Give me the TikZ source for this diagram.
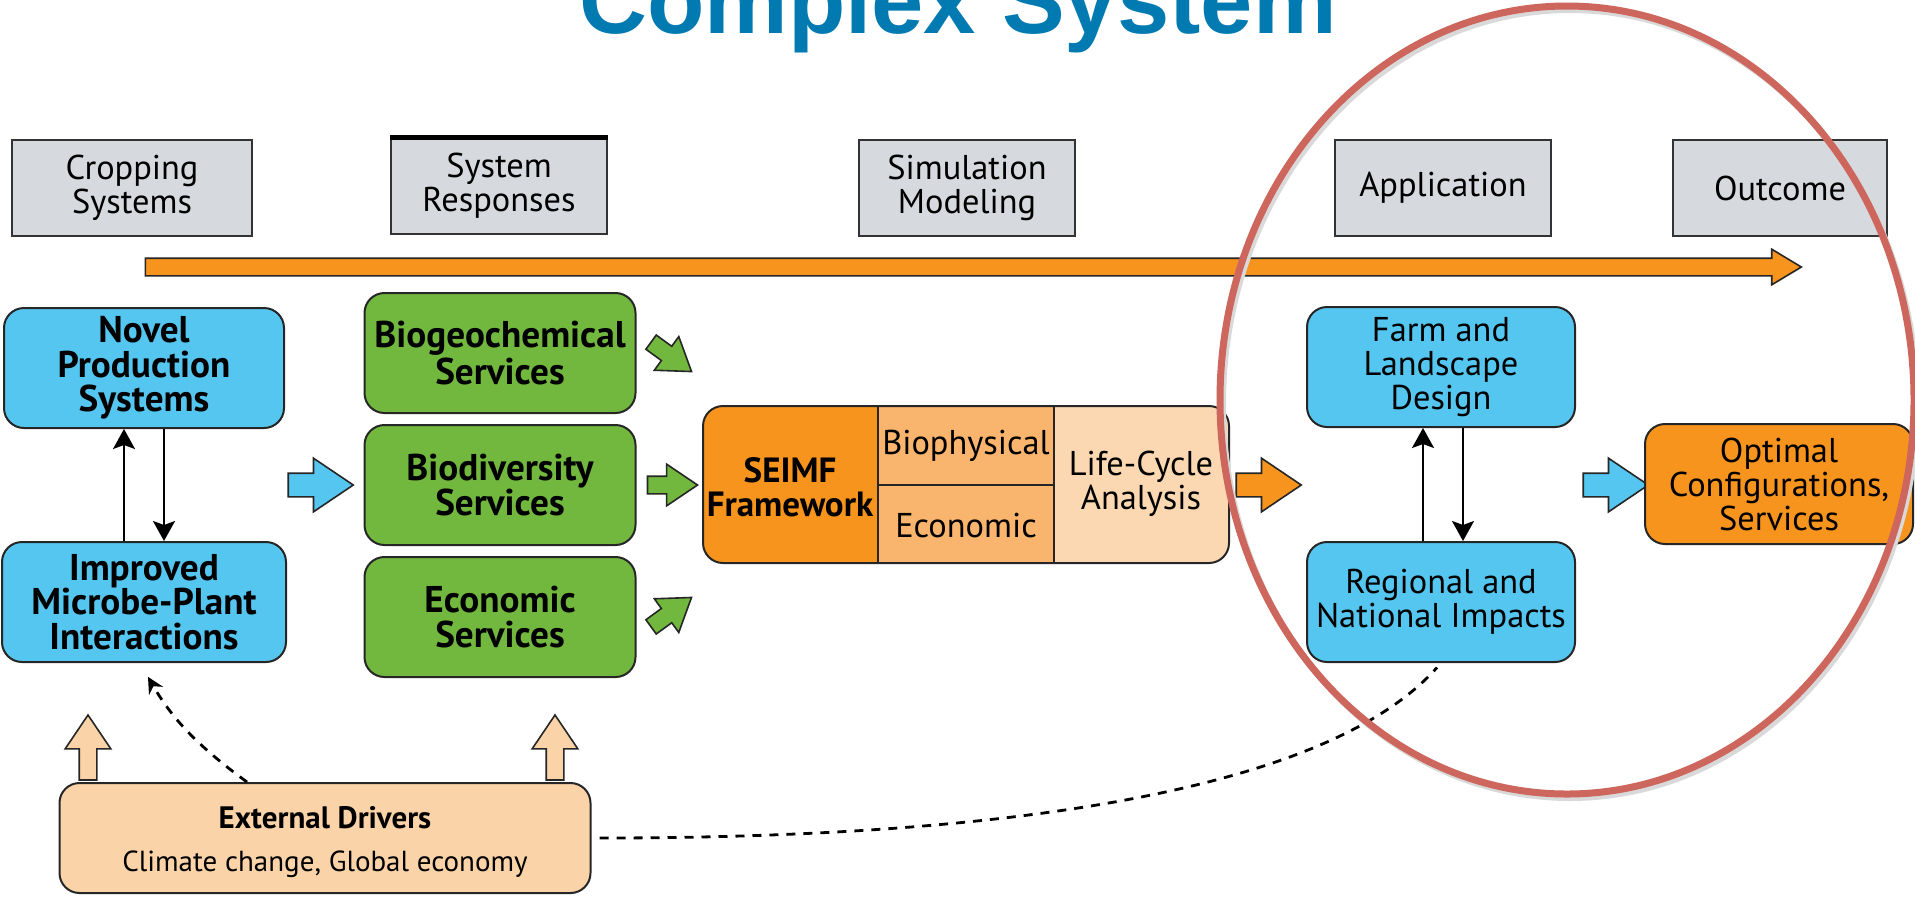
\documentclass[tikz,border=0pt]{standalone}
\usepackage{fontspec}
\setmainfont{PT Sans}
\newfontfamily\titlefont{Liberation Sans}
\usetikzlibrary{shapes.arrows,arrows.meta,calc}
\definecolor{hdrgray}{RGB}{214,218,223}
\definecolor{skyblue}{RGB}{84,198,240}
\definecolor{leafgreen}{RGB}{114,184,62}
\definecolor{darkorange}{RGB}{247,148,30}
\definecolor{midorange}{RGB}{249,180,110}
\definecolor{paleorange}{RGB}{252,216,178}
\definecolor{tan}{RGB}{250,212,168}
\definecolor{titleblue}{RGB}{0,122,176}
\definecolor{ringred}{RGB}{205,102,92}

\begin{document}
\begin{tikzpicture}[x=0.5pt,y=-0.5pt,
    every node/.style={font=\fontsize{17.2}{17}\selectfont, inner sep=0pt, align=center},
    hdr/.style={draw=black!80, line width=1pt, fill=hdrgray, minimum width=108pt, minimum height=48pt},
    box/.style={draw=black!85, line width=1pt, rounded corners=10pt, minimum width=134pt, minimum height=60pt},
    bold/.style={font=\fontsize{18.6}{17.2}\selectfont\bfseries},
    blk/.style={single arrow, draw=black!85, line width=0.8pt, single arrow head indent=0pt,
      single arrow tip angle=68, minimum height=32.5pt, inner ysep=5.5pt, single arrow head extend=7.5pt},
    link/.style={line width=1pt, -{Stealth[length=10pt,width=11pt,inset=2pt]}},
    feedback/.style={line width=1.4pt, dash pattern=on 4.5pt off 4pt}
  ]
  \def\sx{703} \def\sa{878} \def\sb{1054} \def\se{1229}
  \def\st{406} \def\sm{485} \def\sbot{563}
  \useasboundingbox (0,0) rectangle (1915,896);
  \fill[white] (0,0) rectangle (1915,896);

  %title, cut at the top
  \node[font=\titlefont\bfseries\fontsize{47}{47}\selectfont, text=titleblue, anchor=base] (title) at (958,33) {Complex System};

  %headers
  \node[hdr, minimum width=120pt] (crop) at (132,188) {Cropping\\Systems};
  \node[hdr] (resp) at (499,186) {System\\Responses};
  \node[hdr] (simu) at (967,188) {Simulation\\Modeling};
  \node[hdr] (appl) at (1443,188) {Application};
  \node[hdr, minimum width=107pt] (outc) at (1780,188) {Outcome};
  \draw[line width=2.5pt] (resp.north west) -- (resp.north east);
  \node[blk, fill=darkorange, minimum height=828pt, inner ysep=4pt, single arrow head extend=4.5pt, single arrow tip angle=62] (flow) at (966,267) {};

  %cropping systems
  \node[box, bold, fill=skyblue, minimum width=140pt] (novel) at (144,368) {Novel\\Production\\Systems};
  \node[box, bold, fill=skyblue, minimum width=142pt] (micro) at (144,602) {Improved\\Microbe-Plant\\Interactions};
  \draw[link] ($(micro.north)+(-20,0)$) -- ($(novel.south)+(-20,0)$);
  \draw[link] ($(novel.south)+(20,0)$) -- ($(micro.north)+(20,0)$);
  \node[blk, fill=skyblue] (toserv) at (312,485) {};

  %system responses
  \node[box, bold, fill=leafgreen, minimum width=135.5pt] (bgc) at (500,353) {Biogeochemical\\Services};
  \node[box, bold, fill=leafgreen, minimum width=135.5pt] (bdv) at (500,485) {Biodiversity\\Services};
  \node[box, bold, fill=leafgreen, minimum width=135.5pt] (ecs) at (500,617) {Economic\\Services};
  \node[blk, fill=leafgreen, minimum height=25pt, inner ysep=4pt, single arrow head extend=6pt, rotate=-36] (gup) at (666,353) {};
  \node[blk, fill=leafgreen, minimum height=25pt, inner ysep=4pt, single arrow head extend=6pt] (gmid) at (666,485) {};
  \node[blk, fill=leafgreen, minimum height=25pt, inner ysep=4pt, single arrow head extend=6pt, rotate=36] (glow) at (666,616) {};

  %simulation modeling
  \begin{scope}
    \clip[rounded corners=10pt] (\sx,\st) rectangle (\se,\sbot);
    \fill[darkorange] (\sx,\st) rectangle (\sa,\sbot);
    \fill[midorange] (\sa,\st) rectangle (\sb,\sbot);
    \fill[paleorange] (\sb,\st) rectangle (\se,\sbot);
  \end{scope}
  \draw[line width=1pt, black!85, rounded corners=10pt] (\sx,\st) rectangle (\se,\sbot);
  \draw[line width=1pt, black!85] (\sa,\st) -- (\sa,\sbot) (\sb,\st) -- (\sb,\sbot) (\sa,\sm) -- (\sb,\sm);
  \node[bold, font=\fontsize{17.5}{17.2}\selectfont\bfseries] (seimf) at (790,487) {SEIMF\\Framework};
  \node (bioph) at (966,446) {Biophysical};
  \node (econ) at (966,526) {Economic};
  \node (lca) at (1141,484) {Life-Cycle\\Analysis};
  \node[blk, fill=darkorange] (toapp) at (1260,485) {};

  %application and outcome
  \node[box, fill=skyblue] (farm) at (1441,367) {Farm and\\Landscape\\Design};
  \node[box, fill=skyblue] (regio) at (1441,602) {Regional and\\National Impacts};
  \draw[link] ($(regio.north)+(-18,0)$) -- ($(farm.south)+(-18,0)$);
  \draw[link] ($(farm.south)+(22,0)$) -- ($(regio.north)+(22,0)$);
  \node[blk, fill=skyblue] (toopt) at (1607,485) {};
  \node[box, fill=darkorange] (optim) at (1779,484) {Optimal\\Configurations,\\Services};

  %external drivers
  \node[box, fill=tan, minimum width=265.5pt, minimum height=55pt] (ext) at (325,838) {};
  \node[font=\fontsize{15.5}{17}\selectfont\bfseries] (exthead) at (325,818) {External Drivers};
  \node[font=\fontsize{14.5}{17}\selectfont] (extsub) at (325,864) {Climate change, Global economy};
  \node[blk, fill=tan, inner ysep=4pt, single arrow head extend=7pt, rotate=90] (upl) at (88,754) {};
  \node[blk, fill=tan, inner ysep=4pt, single arrow head extend=7pt, rotate=90] (upr) at (555,754) {};
  \draw[feedback, -{Stealth[length=8pt,width=8pt]}, shorten >=8pt] ($(ext.north)+(-78,0)$) to[bend left=12] ($(micro.south)+(-4,0)$);
  \draw[feedback, shorten >=3pt, shorten <=4pt] (ext.east) .. controls +(560,0) and +(-80,90) .. (regio.south);

  %red ring
  \draw[black!15, line width=3pt] (1570,404) ellipse [x radius=347, y radius=394];
  \draw[ringred, line width=3.5pt] (1567,400) ellipse [x radius=347, y radius=394];
\end{tikzpicture}
\end{document}
